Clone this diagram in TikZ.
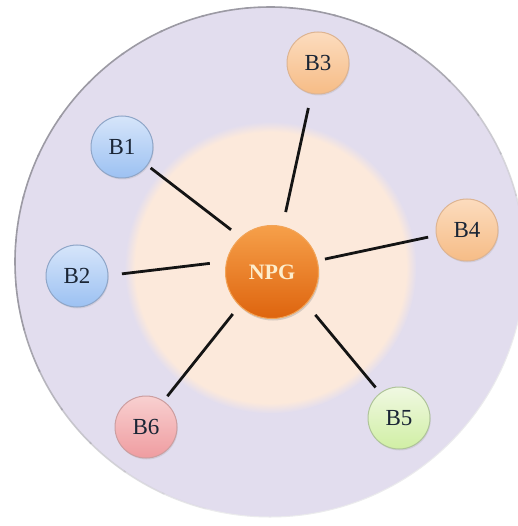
\documentclass[tikz,border=0pt]{standalone}
\usepackage{fontspec}
\setmainfont{Liberation Serif}
\usetikzlibrary{shadows}
\definecolor{lav}{HTML}{E2DDEE}
\definecolor{peach}{HTML}{FCE9DB}
\definecolor{rimgray}{HTML}{9C9AA4}
\definecolor{txt}{HTML}{1A2535}
\definecolor{HTML8FA6C8}{HTML}{8FA6C8}
\definecolor{HTMLD6E5FA}{HTML}{D6E5FA}
\definecolor{HTML9CC1F2}{HTML}{9CC1F2}
\definecolor{HTMLDDB492}{HTML}{DDB492}
\definecolor{HTMLFCDCBE}{HTML}{FCDCBE}
\definecolor{HTMLF6BC86}{HTML}{F6BC86}
\definecolor{HTMLAFC49A}{HTML}{AFC49A}
\definecolor{HTMLF0F8E2}{HTML}{F0F8E2}
\definecolor{HTMLD0EFA4}{HTML}{D0EFA4}
\definecolor{HTMLCC9EA0}{HTML}{CC9EA0}
\definecolor{HTMLF8D0D0}{HTML}{F8D0D0}
\definecolor{HTMLEF9CA0}{HTML}{EF9CA0}
\definecolor{HTMLF2A458}{HTML}{F2A458}
\definecolor{HTMLF6A04A}{HTML}{F6A04A}
\definecolor{HTMLDE640E}{HTML}{DE640E}
\definecolor{HTMLFDEDCC}{HTML}{FDEDCC}
\definecolor{HTML141414}{HTML}{141414}
\pgfdeclareradialshading{softdisk}{\pgfpoint{0bp}{0bp}}{color(0bp)=(peach); color(23.2bp)=(peach); color(25bp)=(lav); color(50bp)=(lav)}
\tikzset{
  bnode/.style={circle, minimum size=62pt, inner sep=0pt, line width=1pt,
    font=\fontsize{23}{23}\selectfont, text=txt,
    drop shadow={opacity=0.18, shadow xshift=0.8pt, shadow yshift=-1.5pt}},
  bblue/.style={bnode, draw=HTML8FA6C8, top color=HTMLD6E5FA, bottom color=HTML9CC1F2},
  borange/.style={bnode, draw=HTMLDDB492, top color=HTMLFCDCBE, bottom color=HTMLF6BC86},
  bgreen/.style={bnode, draw=HTMLAFC49A, top color=HTMLF0F8E2, bottom color=HTMLD0EFA4},
  bpink/.style={bnode, draw=HTMLCC9EA0, top color=HTMLF8D0D0, bottom color=HTMLEF9CA0},
  hub/.style={circle, minimum size=93pt, inner sep=0pt, line width=1pt,
    draw=HTMLF2A458, top color=HTMLF6A04A, bottom color=HTMLDE640E,
    font=\fontsize{22}{22}\selectfont\bfseries, text=HTMLFDEDCC,
    drop shadow={opacity=0.3, shadow xshift=1pt, shadow yshift=-2pt}},
  conn/.style={line width=2.8pt, draw=HTML141414},
  rim/.style={draw=rimgray, line width=1.6pt}
}
\begin{document}
\begin{tikzpicture}[x=1pt, y=-1pt]
\useasboundingbox[fill=white] (0,0) rectangle (517,526);
% outer disk
\fill[lav] (270,262) circle (255);
\draw[rimgray!20, line width=1pt] (270,262) circle (255);
\foreach \a/\o in {-5/0.12,-15/0.25,-25/0.4,-35/0.6,-45/0.8,-55/1,-65/1,-75/1,-85/1,-95/1,-105/1,-115/1,-125/1,-135/1,-145/1,-155/1,-165/1,-175/1,-185/1,-195/0.85,-205/0.65,-215/0.45,-225/0.3,-235/0.18,-245/0.08}{
  \draw[rim, draw opacity=\o] (270,262) ++(\a:255) arc[start angle=\a, delta angle=-10.5, radius=255];
}
% inner soft disk
\shade[shading=softdisk] (270.5,267.5) circle (146);
% nodes
\node[hub] (NPG) at (272,272) {NPG};
\node[bblue] (B1) at (122,147) {B1};
\node[bblue] (B2) at (77,276) {B2};
\node[borange] (B3) at (318,63) {B3};
\node[borange] (B4) at (467,230) {B4};
\node[bgreen] (B5) at (399,418) {B5};
\node[bpink] (B6) at (146,427) {B6};
% connectors
\draw[conn, shorten <=4pt, shorten >=12pt] (B1.-36) -- (NPG.132);
\draw[conn, shorten <=13.5pt, shorten >=16.5pt] (B2.1) -- (NPG.167);
\draw[conn, shorten <=14.5pt, shorten >=14.5pt] (B3.-102) -- (NPG.77);
\draw[conn, shorten <=8pt, shorten >=7.5pt] (B4.190) -- (NPG.14);
\draw[conn, shorten <=7pt, shorten >=14pt] (B5.127) -- (NPG.-43);
\draw[conn, shorten <=6pt, shorten >=10.5pt] (B6.56) -- (NPG.-134);
\end{tikzpicture}
\end{document}
